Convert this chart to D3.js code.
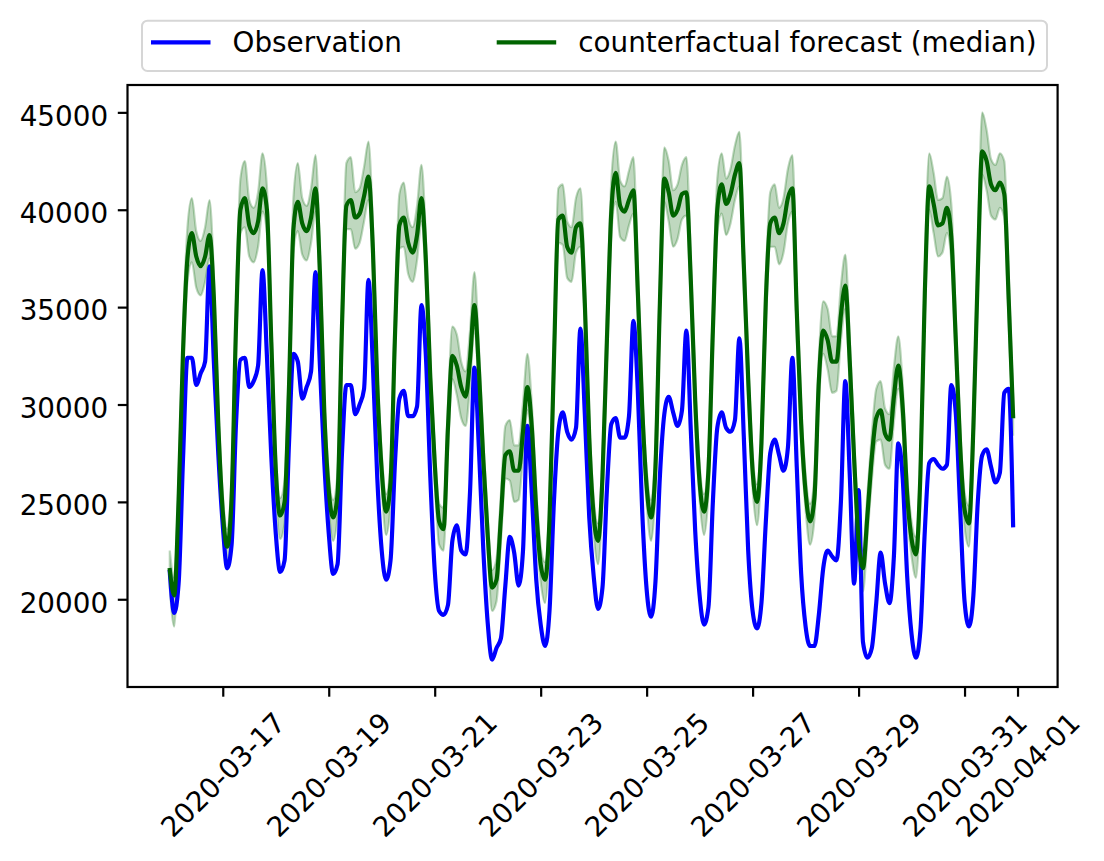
<!DOCTYPE html>
<html>
<head>
<meta charset="utf-8">
<script src="https://cdn.jsdelivr.net/npm/d3@7"></script>
<style>
  body { margin: 0; background: #fff; }
  svg { display: block; font-family: "DejaVu Sans", sans-serif; }
</style>
</head>
<body>
<svg width="1104" height="861"></svg>
<script>
// hourly series sampled every 2 hours, 2020-03-16 00:00 .. 2020-03-31 22:00 (UTC)
const startTime = "2020-03-16T00:00:00Z";
const endTime = "2020-03-31T23:00:00Z";
const stepHours = 2;

const observation = [
  21400, 19300, 20800, 27200, 32400, 32400, 31000, 31600, 32200, 37100, 32100, 27400,
  23800, 21600, 22800, 29000, 32300, 32400, 30900, 31200, 32000, 36900, 32500, 27300,
  23400, 21400, 22000, 28000, 32600, 32200, 30300, 30900, 31700, 36800, 32000, 27000,
  23400, 21300, 21800, 27500, 31000, 31000, 29500, 30000, 30800, 36400, 32000, 26200,
  22500, 21000, 22000, 27000, 30300, 30700, 29400, 29400, 29900, 35100, 32500, 26300,
  21500, 19400, 19200, 19700, 23000, 23800, 22500, 22300, 25500, 31900, 27800, 22600,
  18800, 16900, 17500, 18000, 20700, 23200, 22400, 20700, 22500, 28900, 25400, 21000,
  18700, 17600, 19400, 25000, 28600, 29600, 28600, 28200, 28800, 33900, 29500, 24200,
  21200, 19500, 20600, 25600, 29000, 29300, 28300, 28300, 29400, 34300, 30700, 24500,
  20500, 19100, 20900, 26300, 29500, 30400, 29600, 28900, 29700, 33800, 28700, 23500,
  20200, 18700, 19600, 25000, 28800, 29600, 28800, 28600, 29200, 33400, 28400, 22500,
  19400, 18500, 19800, 24000, 27500, 28200, 27400, 26600, 27800, 32400, 26800, 21300,
  18600, 17600, 17600, 19200, 21600, 22500, 22200, 22000, 25000, 31200, 26400, 20800,
  25600, 17800, 17000, 17500, 19800, 22400, 20800, 19800, 22200, 28000, 26200, 21200,
  18200, 17000, 18400, 23500, 27000, 27200, 26900, 26700, 26900, 31000, 29600, 24700,
  19900, 18600, 20200, 25000, 27400, 27700, 26800, 26000, 26500, 30600, 30800, 23800
];

const forecastMedian = [
  21500, 20200, 25100, 32700, 37500, 38800, 37600, 37100, 37600, 38700, 35400, 28900,
  24500, 22700, 25200, 34000, 40000, 40600, 39200, 38800, 39400, 41100, 40000, 33200,
  26700, 24300, 25000, 30900, 39000, 40400, 39300, 38900, 39600, 41100, 36800, 29600,
  25600, 24200, 25400, 34000, 40200, 40500, 39600, 39800, 40700, 41700, 38000, 31000,
  26600, 24500, 26000, 33500, 39200, 39600, 38300, 37800, 38700, 40600, 37400, 31400,
  27000, 24000, 23600, 28800, 32500, 32000, 30900, 30400, 32300, 35100, 31800, 27200,
  23300, 20600, 21000, 24200, 27400, 27600, 26600, 26600, 28600, 30900, 28800, 24600,
  21800, 21000, 24100, 32200, 39500, 39700, 38100, 37800, 39100, 39300, 35200, 28300,
  24300, 23000, 26300, 33300, 39900, 41900, 40200, 39900, 40500, 41000, 35800, 29800,
  25800, 24200, 26800, 35200, 41600, 40900, 39700, 40000, 40800, 40900, 36400, 30200,
  26000, 24500, 26600, 33800, 40000, 41300, 40300, 40800, 41800, 42400, 37200, 31300,
  26600, 25000, 28000, 35400, 39300, 39600, 38800, 39300, 40600, 41100, 34800, 29000,
  25500, 24000, 25200, 31200, 33800, 33300, 32200, 32200, 34600, 36100, 32200, 27200,
  23000, 21600, 24300, 27300, 29300, 29700, 28500, 28200, 30400, 32000, 29800, 25400,
  23100, 22300, 26400, 35700, 41200, 40300, 39200, 39300, 40100, 38600, 33400, 27900,
  24600, 23900, 28800, 36800, 43000, 42500, 41300, 41000, 41400, 40800, 35400, 29400
];

const forecastUpper = [
  22500, 21100, 26200, 33900, 39100, 40600, 38900, 38400, 39100, 40500, 36600, 29900,
  25400, 23600, 26300, 35200, 41600, 42500, 40500, 40100, 40900, 42900, 41200, 34200,
  27600, 25200, 26100, 32100, 40600, 42400, 40600, 40200, 41100, 42800, 38000, 30600,
  26500, 25100, 26500, 35200, 42400, 42700, 40900, 41100, 42200, 43500, 39200, 32000,
  27500, 25400, 27100, 34700, 40800, 41400, 39600, 39100, 40200, 42300, 38600, 32400,
  27900, 24900, 24700, 30000, 34000, 33600, 32200, 31700, 33800, 36800, 33000, 28200,
  24200, 21500, 22100, 25400, 28900, 29200, 27900, 27900, 30100, 32600, 30000, 25600,
  22700, 21900, 25200, 33400, 41100, 41300, 39400, 39100, 40600, 41100, 36400, 29300,
  25200, 23900, 27400, 34500, 41500, 43500, 41500, 41200, 42000, 42700, 37000, 30800,
  26700, 25100, 27900, 36400, 43200, 42500, 41000, 41300, 42300, 42700, 37600, 31200,
  26900, 25400, 27700, 35000, 41600, 42900, 41600, 42100, 43300, 44000, 38400, 32300,
  27500, 25900, 29100, 36600, 40900, 41300, 40100, 40600, 42100, 42800, 36000, 30000,
  26400, 24900, 26300, 32400, 35300, 34900, 33500, 33500, 36100, 37700, 33400, 28200,
  23900, 22500, 25400, 28500, 30800, 31200, 29800, 29500, 31900, 33500, 31000, 26400,
  24000, 23200, 27500, 36900, 42900, 41900, 40500, 40600, 41700, 40300, 34600, 28900,
  25500, 24800, 29900, 38000, 45000, 44100, 42600, 42300, 42900, 42500, 36600, 30400
];

const forecastLower = [
  20600, 18600, 24000, 31500, 36300, 37300, 36000, 35600, 36300, 37500, 34200, 27900,
  23600, 21500, 24100, 32800, 38800, 39100, 37600, 37300, 38100, 39900, 38800, 32200,
  25800, 23100, 23900, 29700, 37800, 38900, 37700, 37400, 38300, 39900, 35600, 28600,
  24700, 23000, 24300, 32800, 39000, 39000, 38000, 38300, 39400, 40500, 36800, 30000,
  25700, 23300, 24900, 32300, 38000, 38100, 36700, 36300, 37400, 39400, 36200, 30400,
  26100, 22800, 22500, 27600, 31300, 30500, 29300, 28900, 31000, 33900, 30600, 26200,
  22400, 19400, 19900, 23000, 26200, 26100, 25000, 25100, 27300, 29700, 27600, 23600,
  20900, 19800, 23000, 31000, 38300, 38200, 36500, 36300, 37800, 38100, 34000, 27300,
  23400, 21800, 25200, 32100, 38700, 40400, 38600, 38400, 39200, 39800, 34600, 28800,
  24900, 23000, 25700, 34000, 40400, 39400, 38100, 38500, 39500, 39700, 35200, 29200,
  25100, 23300, 25500, 32600, 38800, 39800, 38700, 39300, 40500, 41200, 36000, 30300,
  25700, 23800, 26900, 34200, 38100, 38100, 37200, 37800, 39300, 39900, 33600, 28000,
  24600, 22800, 24100, 30000, 32600, 31800, 30600, 30700, 33300, 34900, 31000, 26200,
  22100, 20400, 23200, 26100, 28100, 28200, 26900, 26700, 29100, 30800, 28600, 24400,
  22200, 21100, 25300, 34500, 40000, 38800, 37600, 37800, 38800, 37400, 32200, 26900,
  23700, 22700, 27700, 35600, 41800, 41000, 39700, 39500, 40100, 39600, 34200, 28400
];

const xTickLabels = ["2020-03-17", "2020-03-19", "2020-03-21", "2020-03-23", "2020-03-25",
                     "2020-03-27", "2020-03-29", "2020-03-31", "2020-04-01"];
const yTickValues = [20000, 25000, 30000, 35000, 40000, 45000];

const legendItems = [
  { label: "Observation", color: "#0000ff" },
  { label: "counterfactual forecast (median)", color: "#006400" }
];

const svg = d3.select("svg"),
      margin = { top: 85, right: 46.4, bottom: 174, left: 127.5 },
      width = +svg.attr("width") - margin.left - margin.right,
      height = +svg.attr("height") - margin.top - margin.bottom;

const fontSize = 27.8,
      tickLen = 9.7,
      tickPad = 9.7,
      lineW = 4.17;

const chart = svg.append("g")
    .attr("transform", `translate(${margin.left},${margin.top})`);

const parseTime = d3.utcParse("%Y-%m-%dT%H:%M:%SZ"),
      parseDay = d3.utcParse("%Y-%m-%d");
const t0 = parseTime(startTime), t1 = parseTime(endTime);
const times = observation.map((_, i) => d3.utcHour.offset(t0, i * stepHours));

// matplotlib-like 5% margins
const xPad = (t1 - t0) * 0.05;
const x = d3.scaleUtc()
    .domain([new Date(+t0 - xPad), new Date(+t1 + xPad)])
    .range([0, width]);

const yMin = d3.min([...observation, ...forecastLower]),
      yMax = d3.max([...observation, ...forecastUpper]);
const yPad = (yMax - yMin) * 0.05;
const y = d3.scaleLinear()
    .domain([yMin - yPad, yMax + yPad])
    .range([height, 0]);

// band
const band = d3.area()
    .curve(d3.curveMonotoneX)
    .x((d, i) => x(times[i]))
    .y0((d, i) => y(forecastLower[i]))
    .y1((d, i) => y(forecastUpper[i]));

chart.append("path")
    .datum(forecastMedian)
    .attr("d", band)
    .attr("fill", "#006400")
    .attr("fill-opacity", 0.25)
    .attr("stroke", "#006400")
    .attr("stroke-opacity", 0.25)
    .attr("stroke-width", 2.2);

const line = d3.line()
    .curve(d3.curveMonotoneX)
    .x((d, i) => x(times[i]))
    .y(d => y(d));

chart.append("path")
    .datum(observation)
    .attr("d", line)
    .attr("fill", "none")
    .attr("stroke", legendItems[0].color)
    .attr("stroke-width", lineW)
    .attr("stroke-linejoin", "round")
    .attr("stroke-linecap", "square");

chart.append("path")
    .datum(forecastMedian)
    .attr("d", line)
    .attr("fill", "none")
    .attr("stroke", legendItems[1].color)
    .attr("stroke-width", lineW)
    .attr("stroke-linejoin", "round")
    .attr("stroke-linecap", "square");

// axes
const xAxis = chart.append("g")
    .attr("transform", `translate(0,${height})`)
    .call(d3.axisBottom(x)
        .tickValues(xTickLabels.map(parseDay))
        .tickFormat(d3.utcFormat("%Y-%m-%d"))
        .tickSize(tickLen));

const yAxis = chart.append("g")
    .call(d3.axisLeft(y)
        .tickValues(yTickValues)
        .tickFormat(d3.format("d"))
        .tickSize(tickLen)
        .tickPadding(tickPad));

[xAxis, yAxis].forEach(g => {
    g.attr("font-size", fontSize).attr("font-family", "DejaVu Sans");
    g.select(".domain").remove();
    g.selectAll(".tick line").attr("stroke-width", 2.2);
});

yAxis.selectAll(".tick text").attr("dy", "0.46em");

xAxis.selectAll(".tick text")
    .attr("y", 0)
    .attr("dy", null)
    .attr("text-anchor", "middle")
    .attr("dominant-baseline", "central")
    .attr("transform", function () {
        const w = this.getComputedTextLength();
        const off = tickLen + tickPad + (w + 32) * Math.SQRT1_2 / 2;
        return `translate(0,${off}) rotate(-45)`;
    });

// frame
chart.append("rect")
    .attr("width", width)
    .attr("height", height)
    .attr("fill", "none")
    .attr("stroke", "#000")
    .attr("stroke-width", 2.2);

// legend
const legend = svg.append("g").attr("transform", "translate(142,20.7)");
legend.append("rect")
    .attr("width", 905)
    .attr("height", 50.3)
    .attr("rx", 5.5)
    .attr("fill", "#fff")
    .attr("fill-opacity", 0.8)
    .attr("stroke", "#d6d6d6")
    .attr("stroke-width", 2);

const legendX = [9, 354.7];
legendItems.forEach((d, i) => {
    const g = legend.append("g").attr("transform", `translate(${legendX[i]},0)`);
    g.append("line")
        .attr("x1", 0).attr("x2", 59.5)
        .attr("y1", 21.6).attr("y2", 21.6)
        .attr("stroke", d.color)
        .attr("stroke-width", lineW);
    g.append("text")
        .attr("x", 81.6)
        .attr("y", 31.8)
        .attr("font-size", fontSize)
        .attr("fill", "#000")
        .text(d.label);
});
</script>
</body>
</html>
